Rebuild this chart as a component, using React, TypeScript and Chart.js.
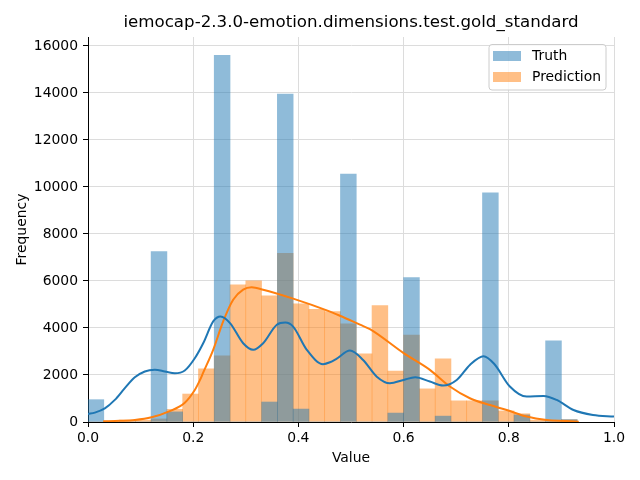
import React, { useEffect, useRef } from "react";
import { Chart, registerables } from "chart.js";

Chart.register(...registerables);

const TITLE = "iemocap-2.3.0-emotion.dimensions.test.gold_standard";

// Histogram bin centres (bin width 0.03)
const binCenters = [
  0.015, 0.045, 0.075, 0.105, 0.135, 0.165, 0.195, 0.225, 0.255, 0.285, 0.315,
  0.345, 0.375, 0.405, 0.435, 0.465, 0.495, 0.525, 0.555, 0.585, 0.615, 0.645,
  0.675, 0.705, 0.735, 0.765, 0.795, 0.825, 0.855, 0.885, 0.915,
];

const truthCounts = [
  950, 0, 0, 0, 7250, 430, 0, 0, 15600, 0, 0, 850, 13950, 550, 0, 0, 10550, 0, 0,
  380, 6140, 0, 250, 0, 0, 9750, 0, 300, 0, 3450, 100,
];

const predCounts = [
  0, 40, 80, 80, 130, 540, 1190, 2260, 2810, 5840, 6010, 5370, 7180, 5030, 4790,
  4700, 4180, 2900, 4950, 2170, 3700, 1410, 2690, 900, 900, 900, 470, 350, 80, 50, 100,
];

// KDE curves
const truthKdeX = [
  0, 0.013, 0.032, 0.051, 0.07, 0.089, 0.108, 0.127, 0.146, 0.165, 0.184, 0.203,
  0.219, 0.238, 0.252, 0.27, 0.295, 0.314, 0.333, 0.359, 0.375, 0.39, 0.416, 0.447,
  0.46, 0.473, 0.498, 0.523, 0.549, 0.574, 0.6, 0.622, 0.65, 0.675, 0.701, 0.726,
  0.752, 0.772, 0.802, 0.834, 0.866, 0.891, 0.923, 0.96, 1.0,
];
const truthKdeY = [
  340, 400, 580, 940, 1440, 1900, 2150, 2220, 2150, 2070, 2190, 2710, 3350, 4280,
  4490, 4210, 3350, 3070, 3350, 4140, 4230, 4060, 3070, 2460, 2540, 2700, 3040, 2640,
  1930, 1650, 1790, 1900, 1720, 1550, 1790, 2430, 2800, 2480, 1510, 1080, 1110, 940,
  510, 300, 230,
];

const predKdeX = [
  0.029, 0.06, 0.089, 0.121, 0.153, 0.184, 0.203, 0.213, 0.219, 0.238, 0.257, 0.276,
  0.295, 0.311, 0.333, 0.39, 0.454, 0.479, 0.517, 0.536, 0.6, 0.65, 0.688, 0.726,
  0.764, 0.796, 0.834, 0.872, 0.91, 0.933,
];
const predKdeY = [
  30, 50, 85, 200, 440, 820, 1360, 1790, 2100, 3070, 4280, 5200, 5630, 5730, 5630,
  5250, 4750, 4520, 4140, 3950, 2930, 2220, 1510, 1010, 720, 510, 230, 85, 40, 10,
];

const xTickValues = [0, 0.2, 0.4, 0.6, 0.8, 1.0];
const yTickValues = [0, 2000, 4000, 6000, 8000, 10000, 12000, 14000, 16000];

const FONT = "DejaVu Sans";
const BLUE = "#1f77b4";
const ORANGE = "#ff7f0e";
const BLUE_A = "rgba(31,119,180,0.5)";
const ORANGE_A = "rgba(255,127,14,0.5)";

const titleAndLegendPlugin = {
  id: "mplTitleLegend",
  afterDraw(chart: any) {
    const ctx = chart.ctx;
    const area = chart.chartArea;
    ctx.save();
    // title centred over the axes
    ctx.font = `16.67px "${FONT}"`;
    ctx.fillStyle = "#000";
    ctx.textAlign = "center";
    ctx.textBaseline = "middle";
    ctx.fillText(TITLE, (area.left + area.right) / 2, 23);

    // legend
    const w = 117;
    const h = 45.5;
    const x = area.right - 8 - w;
    const y = area.top + 7.5;
    ctx.beginPath();
    if ((ctx as any).roundRect) (ctx as any).roundRect(x, y, w, h, 3);
    else ctx.rect(x, y, w, h);
    ctx.fillStyle = "rgba(255,255,255,0.8)";
    ctx.fill();
    ctx.strokeStyle = "#cccccc";
    ctx.lineWidth = 1;
    ctx.stroke();
    const items = [
      { label: "Truth", color: BLUE_A },
      { label: "Prediction", color: ORANGE_A },
    ];
    ctx.font = `13.9px "${FONT}"`;
    ctx.textBaseline = "middle";
    ctx.textAlign = "left";
    items.forEach((it, i) => {
      const yy = y + 6.5 + i * 21;
      ctx.fillStyle = it.color;
      ctx.fillRect(x + 4, yy, 28, 10);
      ctx.fillStyle = "#000";
      ctx.fillText(it.label, x + 43, yy + 5);
    });
    ctx.restore();
  },
};

export default function App() {
  const ref = useRef<HTMLCanvasElement>(null);
  useEffect(() => {
    if (!ref.current) return;
    const chart = new Chart(ref.current, {
      type: "bar",
      data: {
        datasets: [
          {
            type: "line",
            label: "Truth KDE",
            data: truthKdeX.map((x, i) => ({ x, y: truthKdeY[i] })),
            borderColor: BLUE,
            borderWidth: 2,
            pointRadius: 0,
            fill: false,
            cubicInterpolationMode: "monotone",
            order: 0,
          } as any,
          {
            type: "line",
            label: "Prediction KDE",
            data: predKdeX.map((x, i) => ({ x, y: predKdeY[i] })),
            borderColor: ORANGE,
            borderWidth: 2,
            pointRadius: 0,
            fill: false,
            cubicInterpolationMode: "monotone",
            order: 0,
          } as any,
          {
            type: "bar",
            label: "Truth",
            data: binCenters.map((x, i) => ({ x, y: truthCounts[i] })),
            backgroundColor: BLUE_A,
            borderWidth: 0,
            grouped: false,
            barPercentage: 1,
            categoryPercentage: 1,
            order: 1,
          } as any,
          {
            type: "bar",
            label: "Prediction",
            data: binCenters.map((x, i) => ({ x, y: predCounts[i] })),
            backgroundColor: ORANGE_A,
            borderWidth: 0,
            grouped: false,
            barPercentage: 1,
            categoryPercentage: 1,
            order: 2,
          } as any,
        ],
      },
      options: {
        animation: false,
        responsive: false,
        maintainAspectRatio: false,
        layout: { padding: { left: 0, right: 26, top: 37, bottom: 0 } },
        plugins: {
          legend: { display: false },
          tooltip: { enabled: false },
          title: { display: false },
        },
        scales: {
          x: {
            type: "linear",
            min: 0,
            max: 1,
            offset: false,
            grid: {
              color: "#dcdcdc",
              tickColor: "#000",
              tickLength: 5,
              drawTicks: true,
              offset: false,
            },
            border: { display: true, color: "#000", width: 1 },
            ticks: {
              autoSkip: false,
              color: "#000",
              padding: 3,
              maxRotation: 0,
              font: { family: FONT, size: 13.9 },
              callback: (v: any) => Number(v).toFixed(1),
            },
            afterBuildTicks: (s: any) => {
              s.ticks = xTickValues.map((v) => ({ value: v }));
            },
            title: {
              display: true,
              text: "Value",
              color: "#000",
              font: { family: FONT, size: 13.9 },
              padding: { top: 13, bottom: 13 },
            },
            afterFit: (s: any) => {
              s.height = 58;
            },
          },
          y: {
            type: "linear",
            min: 0,
            max: 16380,
            grid: {
              color: "#dcdcdc",
              tickColor: "#000",
              tickLength: 5,
              drawTicks: true,
              offset: false,
            },
            border: { display: true, color: "#000", width: 1 },
            ticks: {
              autoSkip: false,
              color: "#000",
              padding: 5,
              font: { family: FONT, size: 13.9 },
              callback: (v: any) => String(v),
            },
            afterBuildTicks: (s: any) => {
              s.ticks = yTickValues.map((v) => ({ value: v }));
            },
            title: {
              display: true,
              text: "Frequency",
              color: "#000",
              font: { family: FONT, size: 13.9 },
              padding: { top: 14, bottom: 4 },
            },
            afterFit: (s: any) => {
              s.width = 88;
            },
          },
        },
      } as any,
      plugins: [titleAndLegendPlugin],
    });
    return () => chart.destroy();
  }, []);
  return (
    <div style={{ position: "absolute", left: 0, top: 0, width: 640, height: 480, background: "#fff" }}>
      <canvas ref={ref} width={640} height={480} style={{ width: 640, height: 480 }} />
    </div>
  );
}
